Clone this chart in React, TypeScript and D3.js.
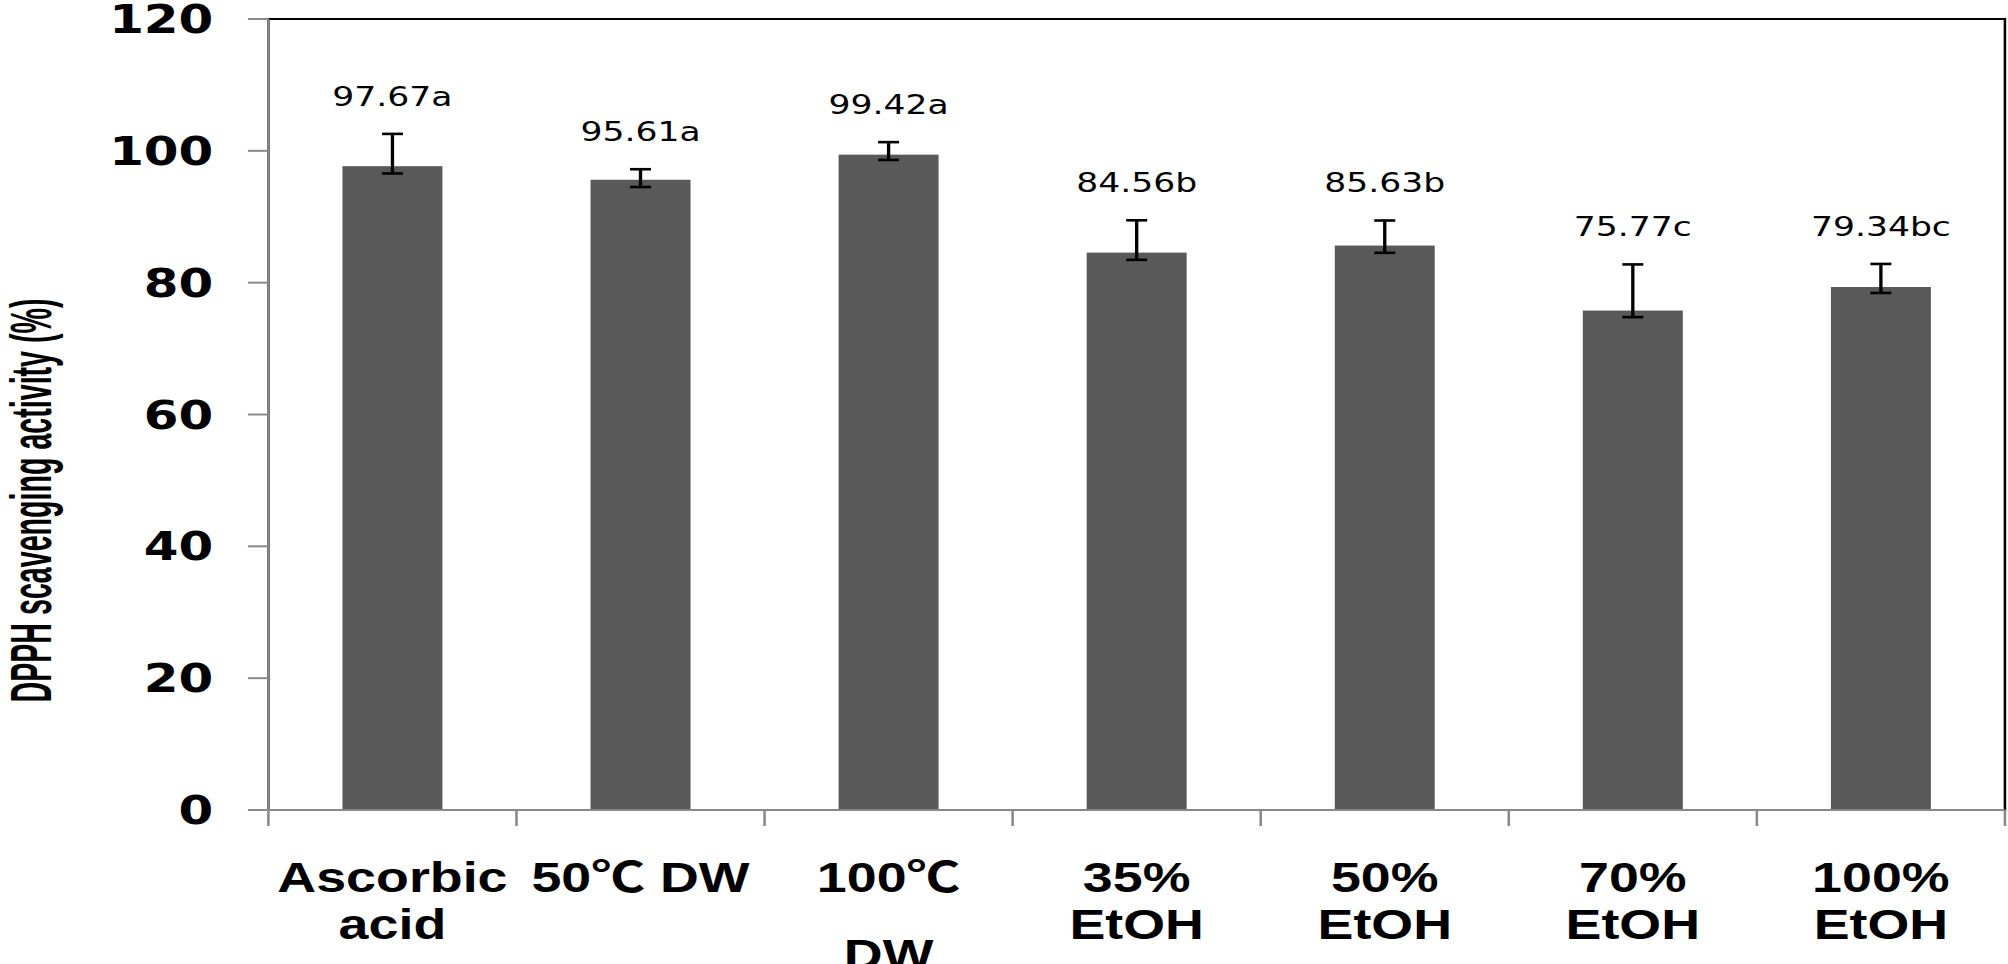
import React from 'react';
import * as d3 from 'd3';

// DPPH radical scavenging activity by extraction condition
const categories = ['Ascorbic acid', '50℃ DW', '100℃ DW', '35% EtOH', '50% EtOH', '70% EtOH', '100% EtOH'];
const categoryLines = [['Ascorbic', 'acid'], ['50℃ DW'], ['100℃', 'DW'], ['35%', 'EtOH'], ['50%', 'EtOH'], ['70%', 'EtOH'], ['100%', 'EtOH']];
const values = [97.67, 95.61, 99.42, 84.56, 85.63, 75.77, 79.34];
const errUpper = [4.9, 1.6, 1.9, 4.9, 3.8, 7.0, 3.5];
const errLower = [1.1, 1.1, 0.8, 1.1, 1.1, 1.0, 0.9];
const letters = ['a', 'a', 'a', 'b', 'b', 'c', 'bc'];
const yTicks = [0, 20, 40, 60, 80, 100, 120];

// the reference is stretched horizontally, so draw in a narrower box and stretch it
const W = 1568;
const H = 964;
const margin = { top: 19, right: 2.4, bottom: 154, left: 209.6 };

const labelFont = "'Liberation Sans', Arial, 'Noto Sans CJK KR', sans-serif";

const App: React.FC = () => {
  const plotW = W - margin.left - margin.right;
  const plotH = H - margin.top - margin.bottom;

  const x = d3.scaleBand<string>()
    .domain(categories)
    .range([0, plotW])
    .paddingInner(0.597)
    .paddingOuter(0.2985);

  const y = d3.scaleLinear().domain([0, 120]).range([plotH, 0]);

  const step = x.step();
  const boundaries = d3.range(categories.length + 1).map(i => i * step);

  // a line holding the CJK degree sign gets a taller line box, as in the source
  const lineY = (lines: string[], j: number) => {
    let yy = plotH + 82;
    for (let k = 0; k < j; k++) yy += lines[k].includes('℃') ? 77 : 47;
    return yy;
  };

  return (
    <svg
      width={2008}
      height={964}
      viewBox={`0 0 ${W} ${H}`}
      preserveAspectRatio="none"
      style={{ position: 'absolute', left: 0, top: 0, display: 'block', background: '#fff' }}
    >
      <rect x={0} y={0} width={W} height={H} fill="#fff" />
      <g transform={`translate(${margin.left},${margin.top})`}>
        {/* plot area border */}
        <rect x={0} y={0} width={plotW} height={plotH} fill="none" stroke="#000" strokeWidth={2} />

        {/* bars */}
        {categories.map((c, i) => (
          <rect key={c} x={x(c)!} y={y(values[i])} width={x.bandwidth()} height={plotH - y(values[i])} fill="#595959" />
        ))}

        {/* error bars */}
        {categories.map((c, i) => {
          const cx = x(c)! + x.bandwidth() / 2;
          const top = y(values[i] + errUpper[i]);
          const bot = y(values[i] - errLower[i]);
          return (
            <g key={c} stroke="#000" strokeWidth={2.6}>
              <line x1={cx} x2={cx} y1={top} y2={bot} />
              <line x1={cx - 8.2} x2={cx + 8.2} y1={top} y2={top} />
              <line x1={cx - 8.2} x2={cx + 8.2} y1={bot} y2={bot} />
            </g>
          );
        })}

        {/* value labels */}
        {categories.map((c, i) => (
          <text
            key={c}
            x={x(c)! + x.bandwidth() / 2}
            y={y(values[i] + errUpper[i]) - 28}
            textAnchor="middle"
            fontFamily="'DejaVu Sans', Verdana, sans-serif"
            fontSize={27}
            fill="#000"
          >
            {values[i].toFixed(2)}{letters[i]}
          </text>
        ))}

        {/* y axis */}
        <line x1={0} x2={0} y1={0} y2={plotH} stroke="#898989" strokeWidth={2} />
        {yTicks.map(t => (
          <g key={t}>
            <line x1={-16} x2={0} y1={y(t)} y2={y(t)} stroke="#898989" strokeWidth={2} />
            <text
              x={-43}
              y={y(t)}
              dy="0.36em"
              textAnchor="end"
              fontFamily="'DejaVu Sans', Verdana, sans-serif"
              fontWeight="bold"
              fontSize={39}
              fill="#000"
            >
              {t}
            </text>
          </g>
        ))}

        {/* x axis */}
        <line x1={0} x2={plotW} y1={plotH} y2={plotH} stroke="#898989" strokeWidth={2} />
        {boundaries.map((b, i) => (
          <line key={i} x1={b} x2={b} y1={plotH} y2={plotH + 16} stroke="#898989" strokeWidth={2} />
        ))}
        {categories.map((c, i) => (
          <text
            key={c}
            x={x(c)! + x.bandwidth() / 2}
            textAnchor="middle"
            fontFamily={labelFont}
            fontWeight="bold"
            fontSize={42}
            fill="#000"
          >
            {categoryLines[i].map((line, j) => (
              <tspan key={j} x={x(c)! + x.bandwidth() / 2} y={lineY(categoryLines[i], j)}>{line}</tspan>
            ))}
          </text>
        ))}

        {/* y axis title */}
        <text
          transform={`translate(${-margin.left + 40},${plotH / 2 + 86}) rotate(-90)`}
          textAnchor="middle"
          fontFamily={labelFont}
          fontWeight="bold"
          fontSize={45}
          textLength={404}
          lengthAdjust="spacingAndGlyphs"
          fill="#000"
        >
          DPPH scavenging activity (%)
        </text>
      </g>
    </svg>
  );
};

export default App;
